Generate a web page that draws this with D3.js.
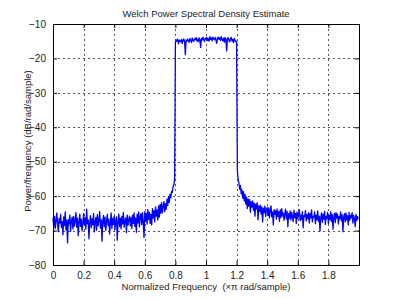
<!DOCTYPE html>
<html>
<head>
<meta charset="utf-8">
<script src="https://cdn.jsdelivr.net/npm/d3@7"></script>
<style>
  body { margin: 0; background: #fff; }
  text { font-family: "Liberation Sans", Arial, sans-serif; fill: #222; }
</style>
</head>
<body>
<div id="chart"></div>
<script>
// frequency grid spacing (x pi rad/sample)
const freqStep = 0.005;

// PSD values in dB
// 0 .. 0.795
const lowBand = [
  -66.2,-68.9,-65.8,-69.4,-67.1,-64.9,-68.2,-70.3,-66.5,-67.8,
  -65.3,-69.1,-67.4,-71.2,-66.0,-68.5,-64.6,-69.8,-67.0,-73.6,
  -66.8,-68.1,-65.5,-70.2,-67.3,-66.1,-69.5,-65.9,-68.7,-67.2,
  -64.8,-69.0,-66.4,-71.5,-67.6,-65.2,-68.8,-66.7,-70.1,-67.9,
  -65.1,-68.4,-66.3,-69.6,-63.8,-68.0,-66.9,-72.4,-67.5,-65.7,
  -69.2,-66.6,-68.3,-65.0,-70.4,-67.7,-66.2,-69.9,-65.4,-68.6,
  -67.0,-64.5,-69.3,-66.8,-73.1,-67.4,-65.6,-68.9,-66.1,-70.0,
  -67.2,-65.3,-68.5,-66.7,-71.0,-67.8,-64.9,-69.4,-66.5,-68.2,
  -65.8,-69.7,-67.1,-66.0,-72.8,-67.6,-65.2,-68.8,-66.4,-69.5,
  -65.9,-68.1,-64.7,-69.0,-67.3,-66.3,-70.6,-65.5,-68.4,-66.9,
  -65.8,-68.6,-66.2,-69.4,-65.5,-67.9,-64.9,-68.8,-66.4,-70.5,
  -65.2,-67.8,-64.6,-68.9,-66.0,-65.1,-68.3,-64.8,-67.6,-72.0,
  -64.5,-67.3,-65.0,-68.1,-63.9,-66.8,-64.7,-67.9,-65.3,-68.4,
  -63.6,-66.4,-64.2,-67.5,-63.1,-65.8,-64.0,-66.9,-62.8,-66.1,
  -62.4,-65.0,-61.9,-64.8,-63.0,-61.6,-64.5,-62.2,-63.8,-60.9,
  -62.7,-60.1,-61.8,-59.4,-60.5,-58.6,-58.9,-57.2,-56.8,-55.0
];
// 0.8 .. 1.2
const passBand = [
  -15.3,-14.6,-15.0,-14.4,-15.8,-14.7,-14.9,-15.2,-14.5,-15.6,
  -14.8,-14.3,-15.1,-18.9,-14.6,-15.0,-14.4,-14.9,-15.3,-14.2,
  -14.7,-15.4,-14.1,-14.8,-15.0,-14.3,-14.6,-13.9,-14.9,-14.4,
  -15.2,-14.0,-14.6,-16.8,-14.2,-14.7,-13.8,-14.5,-15.1,-14.1,
  -14.4,-13.9,-14.8,-14.2,-15.0,-13.7,-14.5,-14.0,-14.9,-13.8,
  -14.3,-14.6,-13.9,-14.7,-15.6,-14.1,-13.8,-14.5,-14.0,-14.8,
  -13.7,-14.4,-14.9,-14.1,-15.3,-13.9,-14.6,-17.8,-14.2,-14.0,
  -14.7,-15.2,-14.3,-13.9,-15.0,-14.5,-15.4,-14.2,-14.8,-15.1,
  -15.0
];
// 1.205 .. 1.995
const highBand = [
  -52.5,-55.4,-56.1,-58.0,-56.9,-59.3,-58.1,-60.6,-58.7,-61.4,
  -59.5,-62.3,-60.2,-63.6,-60.8,-62.9,-61.0,-64.7,-61.6,-63.2,
  -61.4,-64.1,-62.0,-65.8,-62.3,-63.7,-61.9,-66.9,-62.8,-64.4,
  -62.6,-65.2,-63.1,-67.5,-63.5,-64.8,-62.9,-65.9,-64.0,-63.3,
  -65.6,-63.4,-66.3,-64.1,-62.8,-66.0,-64.6,-68.4,-63.9,-65.3,
  -64.2,-66.7,-63.7,-65.9,-64.5,-67.3,-64.0,-66.2,-63.6,-65.8,
  -64.9,-67.0,-65.2,-63.8,-66.6,-64.4,-68.9,-65.1,-66.4,-64.3,
  -66.9,-64.7,-65.8,-67.4,-64.1,-66.2,-65.0,-67.9,-64.6,-66.5,
  -65.3,-63.9,-67.1,-65.6,-66.8,-64.5,-69.2,-65.7,-66.0,-64.2,
  -67.2,-65.4,-66.6,-64.8,-67.8,-65.1,-66.3,-64.0,-67.5,-65.9,
  -66.1,-64.6,-68.0,-65.5,-66.9,-64.3,-67.3,-65.8,-70.1,-66.2,
  -64.9,-67.6,-65.2,-66.7,-64.4,-68.2,-65.9,-66.5,-64.7,-67.9,
  -65.6,-66.8,-64.5,-67.4,-65.3,-69.6,-66.1,-65.0,-67.7,-64.8,
  -66.4,-65.2,-68.1,-65.9,-66.6,-64.6,-67.2,-65.4,-70.3,-66.0,
  -65.1,-67.5,-64.9,-66.9,-65.7,-68.4,-64.7,-67.0,-65.5,-66.3,
  -64.8,-67.8,-65.6,-66.5,-68.9,-65.3,-67.1,-65.9,-66.7
];

const xTicks = [0, 0.2, 0.4, 0.6, 0.8, 1, 1.2, 1.4, 1.6, 1.8];
const yTicks = [-80, -70, -60, -50, -40, -30, -20, -10];

const titleText = 'Welch Power Spectral Density Estimate';
const xLabel = 'Normalized Frequency  (\u00d7\u03c0 rad/sample)';
const yLabel = 'Power/frequency (dB/rad/sample)';

const width = 398, height = 299;
const margin = { top: 24, right: 39, bottom: 34, left: 53 };
const innerW = width - margin.left - margin.right;
const innerH = height - margin.top - margin.bottom;

const psd = lowBand.concat(passBand, highBand)
  .map((db, i) => ({ f: i * freqStep, db: db }));

const svg = d3.select('#chart').append('svg')
  .attr('width', width)
  .attr('height', height);

const x = d3.scaleLinear().domain([0, 2]).range([0, innerW]);
const y = d3.scaleLinear().domain([-80, -10]).range([innerH, 0]);

const g = svg.append('g')
  .attr('transform', `translate(${margin.left},${margin.top})`);

// grid, dotted like matlab
const grid = g.append('g').attr('class', 'grid')
  .attr('stroke', '#555')
  .attr('stroke-width', 1)
  .attr('stroke-dasharray', '2,3');

grid.selectAll('.gx')
  .data(xTicks.filter(d => d > 0))
  .enter().append('line')
  .attr('x1', d => Math.round(x(d)) + 0.5)
  .attr('x2', d => Math.round(x(d)) + 0.5)
  .attr('y1', 0)
  .attr('y2', innerH);

grid.selectAll('.gy')
  .data(yTicks.filter(d => d > -80 && d < -10))
  .enter().append('line')
  .attr('x1', 0)
  .attr('x2', innerW)
  .attr('y1', d => Math.round(y(d)) + 0.5)
  .attr('y2', d => Math.round(y(d)) + 0.5);

// the trace
const line = d3.line()
  .x(d => x(d.f))
  .y(d => y(d.db));

g.append('path')
  .datum(psd)
  .attr('fill', 'none')
  .attr('stroke', '#0000ff')
  .attr('stroke-width', 1.3)
  .attr('stroke-linejoin', 'round')
  .attr('d', line);

// axes, ticks inward
const fmt = d => String(+d.toFixed(1));

const xAxis = g.append('g')
  .attr('transform', `translate(0,${innerH})`)
  .call(d3.axisBottom(x).tickValues(xTicks).tickSize(-4).tickPadding(7).tickFormat(fmt));

const xTop = g.append('g')
  .call(d3.axisTop(x).tickValues(xTicks).tickSize(-4).tickFormat(''));

const yAxis = g.append('g')
  .call(d3.axisLeft(y).tickValues(yTicks).tickSize(-4).tickPadding(7).tickFormat(d3.format('d')));

const yRight = g.append('g')
  .attr('transform', `translate(${innerW},0)`)
  .call(d3.axisRight(y).tickValues(yTicks).tickSize(-4).tickFormat(''));

[xAxis, xTop, yAxis, yRight].forEach(a => {
  a.select('.domain').remove();
  a.selectAll('line').attr('stroke', '#000');
  a.selectAll('text')
    .attr('font-size', 10)
    .attr('fill', '#222')
    .style('font-family', '"Liberation Sans", Arial, sans-serif');
});

// frame
g.append('rect')
  .attr('x', 0.5)
  .attr('y', 0.5)
  .attr('width', innerW)
  .attr('height', innerH)
  .attr('fill', 'none')
  .attr('stroke', '#000')
  .attr('stroke-width', 1);

// labels
svg.append('text')
  .attr('x', margin.left + innerW / 2)
  .attr('y', 17)
  .attr('text-anchor', 'middle')
  .attr('font-size', 9.5)
  .text(titleText);

svg.append('text')
  .attr('x', margin.left + innerW / 2)
  .attr('y', 290)
  .attr('text-anchor', 'middle')
  .attr('font-size', 9.5)
  .style('white-space', 'pre')
  .text(xLabel);

svg.append('text')
  .attr('transform', `translate(31,141) rotate(-90)`)
  .attr('text-anchor', 'middle')
  .attr('font-size', 9.5)
  .text(yLabel);
</script>
</body>
</html>
